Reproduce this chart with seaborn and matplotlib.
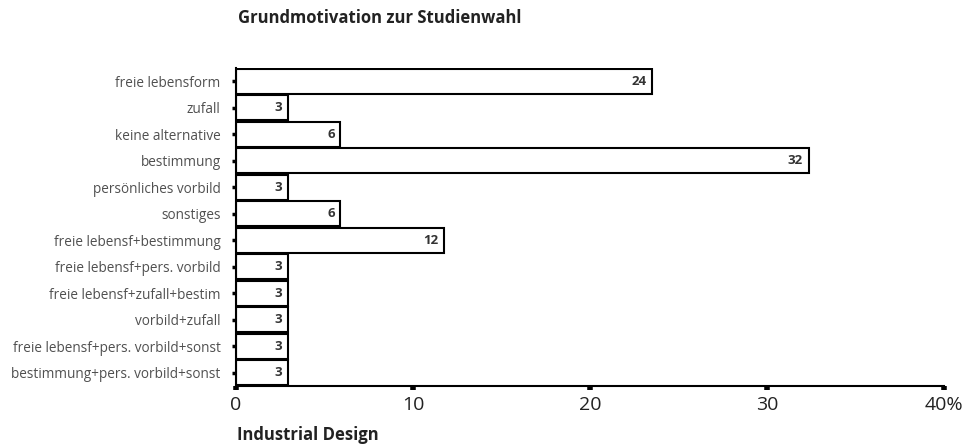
import matplotlib
matplotlib.use("Agg")
import matplotlib.pyplot as plt
import seaborn as sns
import pandas as pd

categories = [
    "freie lebensform",
    "zufall",
    "keine alternative",
    "bestimmung",
    "persönliches vorbild",
    "sonstiges",
    "freie lebensf+bestimmung",
    "freie lebensf+pers. vorbild",
    "freie lebensf+zufall+bestim",
    "vorbild+zufall",
    "freie lebensf+pers. vorbild+sonst",
    "bestimmung+pers. vorbild+sonst",
]
values = [23.53, 2.94, 5.88, 32.35, 2.94, 5.88, 11.76, 2.94, 2.94, 2.94, 2.94, 2.94]
value_labels = ["24", "3", "6", "32", "3", "6", "12", "3", "3", "3", "3", "3"]
xticks = [0, 10, 20, 30, 40]
xtick_labels = ["0", "10", "20", "30", "40%"]
title = "Grundmotivation zur Studienwahl"
subtitle = "Industrial Design"

sns.set_theme(style="white")
plt.rcParams["font.family"] = ["Open Sans", "DejaVu Sans"]

df = pd.DataFrame({"cat": categories, "val": values})

fig = plt.figure(figsize=(9.68, 4.44), dpi=100)
ax = fig.add_axes([236 / 968, 1 - 386 / 444, (944 - 236) / 968, (386 - 68) / 444])

sns.barplot(data=df, x="val", y="cat", orient="h", color="white", saturation=1,
            edgecolor="black", linewidth=1.5, width=0.94, ax=ax)

for v, lab, i in zip(values, value_labels, range(len(values))):
    ax.annotate(lab, xy=(v, i), xytext=(-4, 0), textcoords="offset points",
                ha="right", va="center", fontsize=9.5, fontweight="bold", color="#333333")

ax.set_xlim(0, 40)
ax.set_ylim(len(categories) - 0.5, -0.5)
ax.set_xticks(xticks)
ax.set_xticklabels(xtick_labels, fontsize=14, color="#222222")
ax.set_xlabel("")
ax.set_ylabel("")
ax.tick_params(axis="y", which="major", length=3, width=2.5, color="black",
               labelsize=9.8, labelcolor="#505050", pad=8, left=True)
ax.tick_params(axis="x", which="major", length=3, width=4, color="black",
               direction="out", pad=4, bottom=True)
for s in ["top", "right"]:
    ax.spines[s].set_visible(False)
ax.spines["left"].set_visible(True)
ax.spines["left"].set_linewidth(1.5)
ax.spines["left"].set_color("black")
ax.spines["bottom"].set_linewidth(1.5)
ax.spines["bottom"].set_color("black")

fig.text(238 / 968, 1 - 18 / 444, title, ha="left", va="center",
         fontsize=12, fontweight="bold", color="#222222")
fig.text(237 / 968, 1 - 435 / 444, subtitle, ha="left", va="center",
         fontsize=12, fontweight="bold", color="#222222")

fig.savefig("out.png", dpi=100)
